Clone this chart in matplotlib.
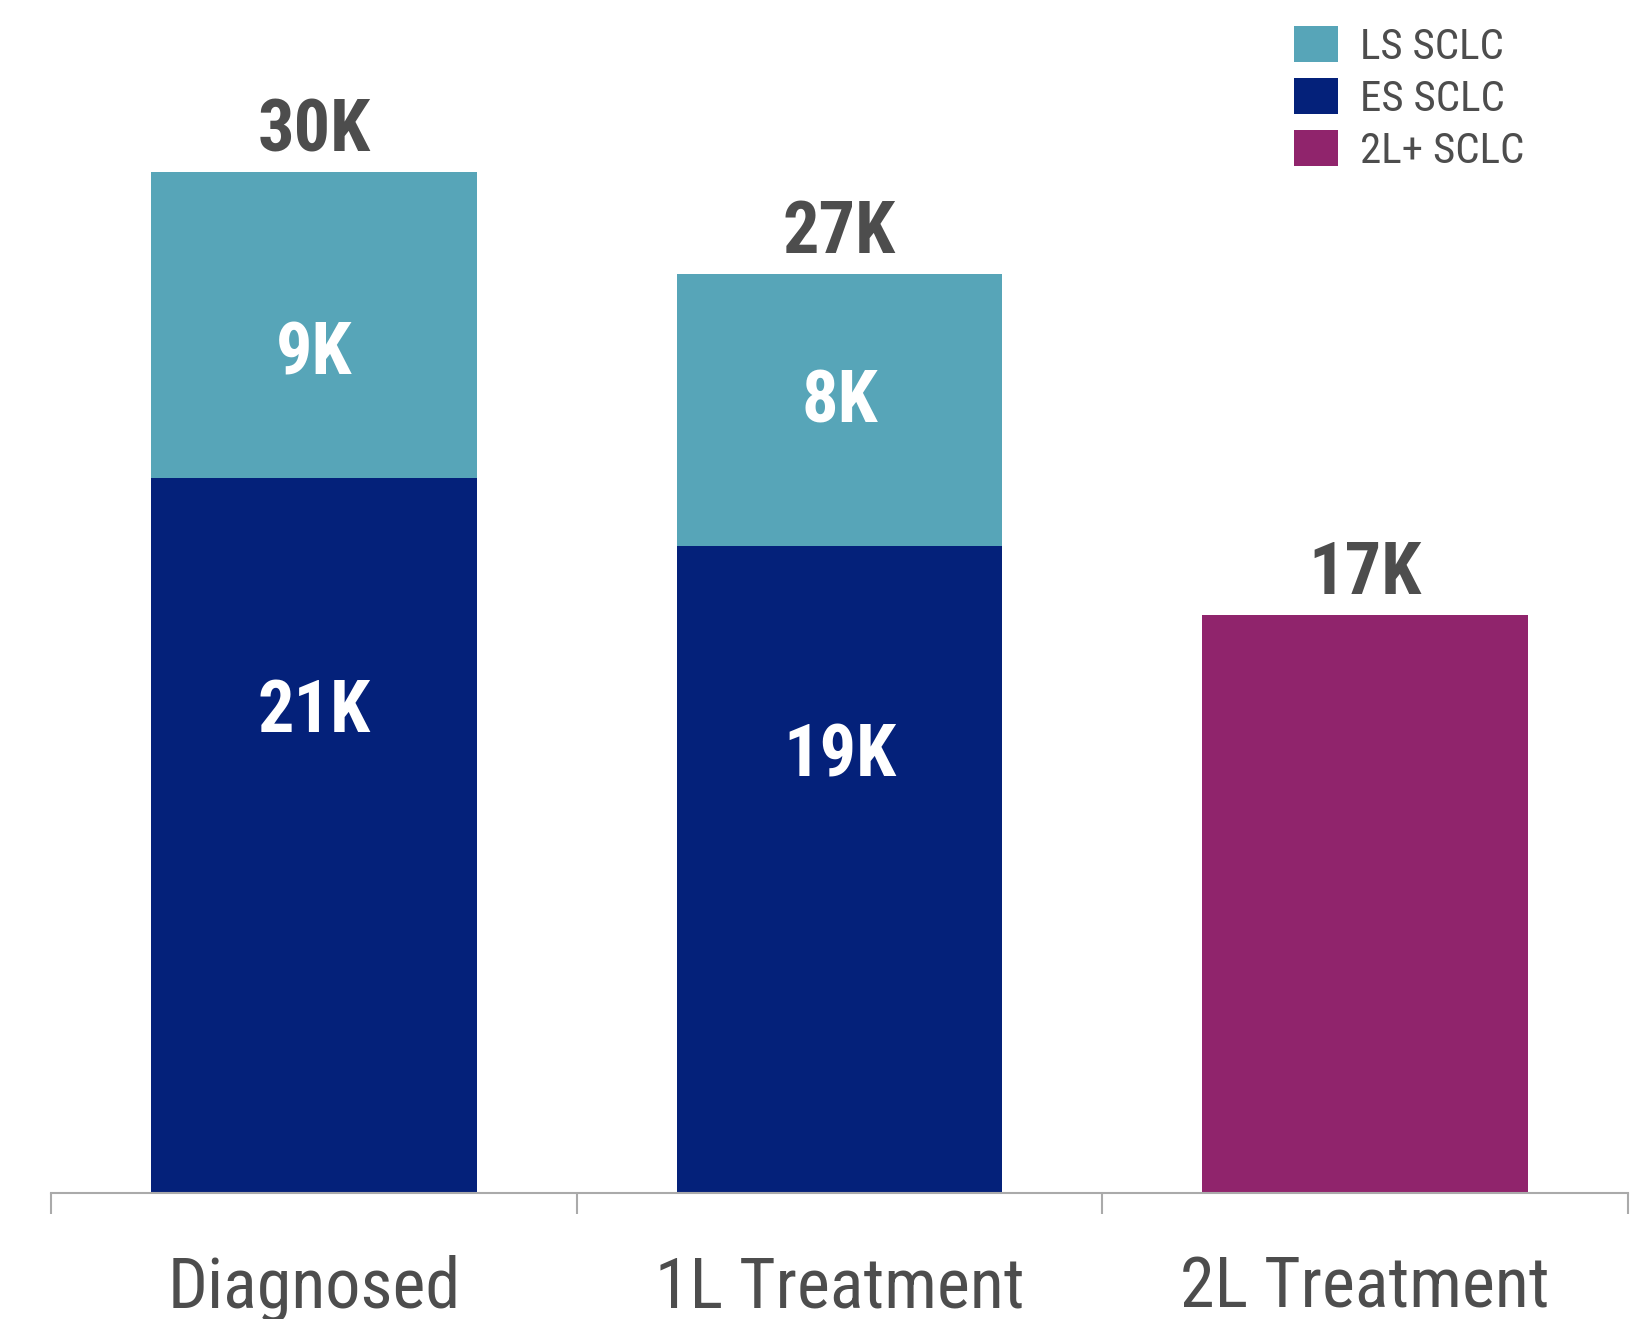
import matplotlib
matplotlib.use("Agg")
import matplotlib.pyplot as plt
from matplotlib.ticker import FixedLocator
import numpy as np

categories = ["Diagnosed", "1L Treatment", "2L Treatment"]
es_values = [21, 19, 0]
ls_values = [9, 8, 0]
l2_values = [0, 0, 17]
totals = [30, 27, 17]
series_names = ["LS SCLC", "ES SCLC", "2L+ SCLC"]

# label placement within segments (fraction of segment height)
es_label_frac = [0.673, 0.675]
ls_label_frac = [0.403, 0.527]

C_LS = "#57A5B8"
C_ES = "#04217A"
C_2L = "#90246C"
TXT = "#4D4D4D"

plt.rcParams['font.family'] = ['Roboto Condensed', 'DejaVu Sans']

fig = plt.figure(figsize=(16.34, 13.19), dpi=100)
ax = fig.add_axes([0.0312, 0.0955, 0.9651, 0.9045])

x = np.arange(len(categories))
w = 0.62
b_es = ax.bar(x[:2], es_values[:2], w, color=C_ES, label=series_names[1])
b_ls = ax.bar(x[:2], ls_values[:2], w, bottom=es_values[:2], color=C_LS, label=series_names[0])
b_2l = ax.bar(x[2:], l2_values[2:], w, color=C_2L, label=series_names[2])

ax.set_xlim(-0.5, 2.5)
ax.set_ylim(0, 35.06)

for s in ["top", "right", "left"]:
    ax.spines[s].set_visible(False)
ax.spines["bottom"].set_color("#AAAAAA")
ax.spines["bottom"].set_linewidth(1.5)
ax.set_yticks([])
ax.set_xticks(x)
ax.set_xticklabels(categories, fontsize=50.5, color=TXT)
ax.tick_params(axis="x", which="major", length=0, pad=44)
ax.xaxis.set_minor_locator(FixedLocator([-0.5, 0.5, 1.5, 2.5]))
ax.tick_params(axis="x", which="minor", length=15, width=1.5, color="#AAAAAA")

for i, t in enumerate(totals):
    ax.annotate(f"{t}K", (x[i], t), xytext=(0, 15), textcoords="offset points",
                ha="center", va="baseline", fontsize=52, fontweight="bold", color=TXT)

for i in range(2):
    ax.text(x[i], es_values[i] * es_label_frac[i], f"{es_values[i]}K", ha="center", va="center",
            fontsize=52, fontweight="bold", color="white")
    ax.text(x[i], es_values[i] + ls_values[i] * ls_label_frac[i], f"{ls_values[i]}K",
            ha="center", va="center", fontsize=52, fontweight="bold", color="white")

fig.legend(handles=[b_ls, b_es, b_2l], labels=series_names, loc="upper left",
           bbox_to_anchor=(0.792, 0.980), frameon=False, fontsize=31,
           handlelength=1.02, handleheight=0.9, handletextpad=0.5,
           labelspacing=0.24, borderpad=0, borderaxespad=0, labelcolor=TXT)

fig.savefig("out.png", dpi=100)
